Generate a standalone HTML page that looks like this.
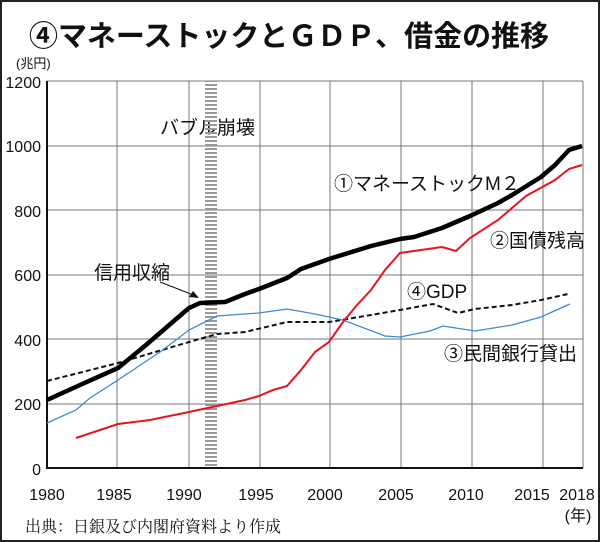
<!DOCTYPE html>
<html><head><meta charset="utf-8"><style>
html,body{margin:0;padding:0;background:#fff}
svg{display:block}
text{font-family:"Liberation Sans","Noto Sans CJK JP",sans-serif}
</style></head><body>
<svg width="600" height="542" viewBox="0 0 600 542" xmlns="http://www.w3.org/2000/svg">
<rect x="1" y="1" width="598" height="540" fill="#fff" stroke="#222" stroke-width="2"/>
<text x="289" y="46" text-anchor="middle" font-size="29" font-weight="bold" fill="#111" textLength="520" lengthAdjust="spacingAndGlyphs">④マネーストックとＧＤＰ、借金の推移</text>
<text x="16" y="68" font-size="13" fill="#111">(兆円)</text>
<defs><pattern id="h" width="12" height="4" patternUnits="userSpaceOnUse"><rect width="12" height="2" fill="#999"/></pattern></defs>
<g stroke="#777" stroke-width="1">
<line x1="47" y1="81" x2="583" y2="81"/><line x1="47" y1="146" x2="583" y2="146"/>
<line x1="47" y1="210" x2="583" y2="210"/><line x1="47" y1="275" x2="583" y2="275"/>
<line x1="47" y1="339" x2="583" y2="339"/><line x1="47" y1="404" x2="583" y2="404"/>
<line x1="117" y1="81" x2="117" y2="468"/><line x1="189" y1="81" x2="189" y2="468"/>
<line x1="260" y1="81" x2="260" y2="468"/><line x1="330" y1="81" x2="330" y2="468"/>
<line x1="401" y1="81" x2="401" y2="468"/><line x1="472" y1="81" x2="472" y2="468"/>
<line x1="543" y1="81" x2="543" y2="468"/><line x1="583" y1="81" x2="583" y2="468"/>
</g>
<g font-size="19" fill="#111">
<text x="160" y="134">バブル崩壊</text>
</g>
<rect x="205" y="81" width="12" height="387" fill="url(#h)"/>
<line x1="47" y1="81" x2="47" y2="469" stroke="#111" stroke-width="2"/>
<line x1="46" y1="468" x2="583" y2="468" stroke="#111" stroke-width="2"/>
<g font-size="16" fill="#111" text-anchor="end">
<text x="41" y="88">1200</text><text x="41" y="152">1000</text><text x="41" y="217">800</text>
<text x="41" y="281">600</text><text x="41" y="346">400</text><text x="41" y="410">200</text><text x="41" y="475">0</text>
</g>
<g font-size="16" fill="#111" text-anchor="middle">
<text x="47" y="500">1980</text><text x="114" y="500">1985</text><text x="184" y="500">1990</text>
<text x="256" y="500">1995</text><text x="325" y="500">2000</text><text x="396" y="500">2005</text>
<text x="466" y="500">2010</text><text x="532" y="500">2015</text><text x="577" y="500">2018</text>
<text x="578" y="521">(年)</text>
</g>
<text x="25" y="532" font-size="16" fill="#111" style="font-family:'Noto Serif CJK SC','Liberation Serif',serif">出典：日銀及び内閣府資料より作成</text>
<polyline fill="none" stroke="#111" stroke-width="2" stroke-dasharray="5,3" points="47,381 118,363 189,342 217,334 245,332 287,322 329,322 371,315 400,310 433,304 458,313 475,309 512,305 541,300 568,294"/>
<polyline fill="none" stroke="#3a8ad8" stroke-width="1.3" points="47,423 76,410 90,398 118,380 160,352 189,330 217,316 259,313 287,309 315,314 343,320 385,336 400,337 430,331 443,326 475,331 512,325 541,317 570,304"/>
<polyline fill="none" stroke="#e8141e" stroke-width="2" points="76,438 100,430 118,424 150,420 189,412 217,406 245,400 259,396 273,390 287,386 301,370 315,352 329,342 343,322 357,305 371,290 385,270 400,253 428,249 442,247 456,251 470,238 498,220 526,196 555,180 569,169 582,165"/>
<polyline fill="none" stroke="#000" stroke-width="4.5" stroke-linejoin="round" points="47,400 80,385 118,368 146,345 175,320 189,308 200,303 225,302 245,294 259,289 287,278 301,269 329,259 371,246 400,239 414,237 442,228 470,216 498,203 512,195 541,177 555,165 569,150 582,146"/>
<g font-size="19" fill="#111">
<text x="334" y="190">①マネーストックM２</text>
<text x="490" y="247">②国債残高</text>
<text x="94" y="279">信用収縮</text>
<text x="407" y="298">④GDP</text>
<text x="444" y="360">③民間銀行貸出</text>
</g>
<line x1="160" y1="282" x2="196" y2="296" stroke="#111" stroke-width="1"/>
<polygon points="199,298 189,297 193,291" fill="#111"/>
</svg>
</body></html>
